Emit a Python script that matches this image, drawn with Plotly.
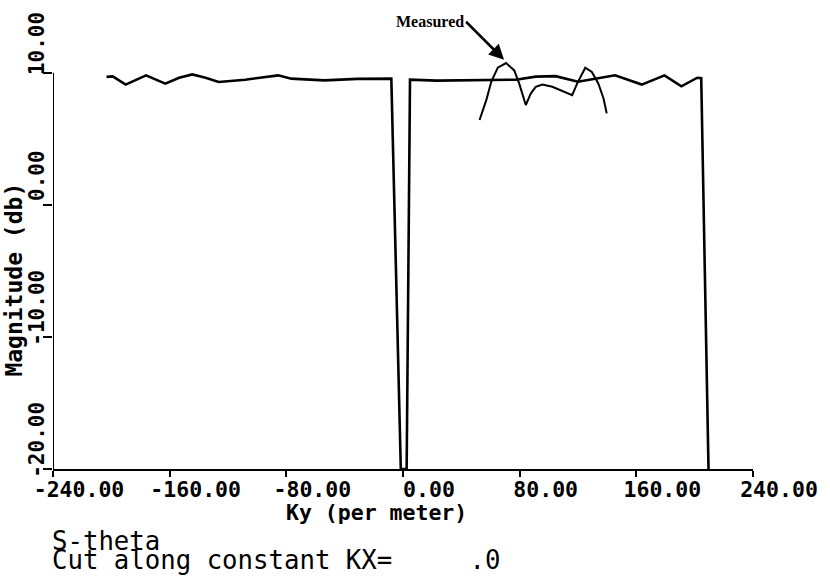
import plotly.graph_objects as go

# Computed S-theta magnitude cut along Kx = 0
ky_computed = [-203.3, -199.0, -190.2, -176.2, -163.0, -153.5, -144.5, -135.4,
               -126.4, -108.2, -85.6, -76.6, -53.9, -31.3, -8.0, -1.5, 2.5,
               4.8, 23.1, 50.3, 77.4, 91.0, 104.6, 120.0, 131.8, 145.4, 163.7,
               179.3, 190.9, 201.8, 204.5, 209.5]
mag_computed = [9.68, 9.72, 9.10, 9.80, 9.17, 9.62, 9.87, 9.62,
                9.30, 9.47, 9.80, 9.55, 9.42, 9.53, 9.55, -20.0, -20.0,
                9.47, 9.40, 9.44, 9.47, 9.70, 9.74, 9.32, 9.55, 9.80, 9.10,
                9.80, 8.97, 9.62, 9.59, -20.0]

# Measured magnitude
ky_measured = [52.5, 57.1, 60.5, 65.0, 70.7, 76.3, 79.7, 84.2, 87.6, 91.0,
               95.6, 102.4, 116.0, 119.4, 125.0, 129.5, 134.0, 137.5, 139.7]
mag_measured = [6.42, 7.92, 9.30, 10.38, 10.73, 10.17, 9.17, 7.55, 8.42, 8.93,
                9.10, 8.93, 8.30, 9.17, 10.38, 10.05, 9.17, 8.05, 6.92]

x_ticks = [-240, -160, -80, 0, 80, 160, 240]
x_tick_text = ["-240.00", "-160.00", "-80.00", "0.00", "80.00", "160.00", "240.00"]
y_ticks = [-20, -10, 0, 10]
y_tick_text = ["-20.00", "-10.00", "0.00", "10.00"]

X_RANGE = [-240, 240]
Y_RANGE = [-20, 12.475]

mono = "DejaVu Sans Mono"

fig = go.Figure()
fig.add_trace(go.Scatter(x=ky_computed, y=mag_computed, mode="lines",
                         line=dict(color="black", width=2.6),
                         showlegend=False))
fig.add_trace(go.Scatter(x=ky_measured, y=mag_measured, mode="lines",
                         line=dict(color="black", width=2),
                         showlegend=False))

# vertical axis line only spans the labelled range
fig.add_shape(type="line", xref="x", yref="y", x0=-240, x1=-240,
              y0=y_ticks[0], y1=y_ticks[-1],
              line=dict(color="black", width=2))

fig.update_xaxes(range=X_RANGE, tickvals=x_ticks, ticktext=x_tick_text,
                 showgrid=False, zeroline=False, showline=True,
                 linecolor="black", linewidth=2, ticks="outside",
                 ticklen=6, tickwidth=2, tickcolor="black",
                 ticklabelshift=26, ticklabelstandoff=-6,
                 tickfont=dict(family=mono, size=21.5, color="black", weight="bold"))
fig.update_yaxes(range=Y_RANGE, tickvals=y_ticks, ticktext=y_tick_text,
                 showgrid=False, zeroline=False, showline=False,
                 ticks="outside", ticklen=9, tickwidth=2, tickcolor="black",
                 tickangle=-90, ticklabelshift=-26, ticklabelstandoff=-9,
                 tickfont=dict(family=mono, size=21, color="black", weight="bold"))

annotations = [
    dict(text="Ky (per meter)", xref="paper", yref="paper", x=0.4626, y=-0.1005,
         xanchor="center", yanchor="middle", showarrow=False,
         font=dict(family=mono, size=21.5, color="black", weight="bold")),
    dict(text="Magnitude (db)", xref="paper", yref="paper", x=-0.056, y=0.441,
         xanchor="center", yanchor="middle", showarrow=False, textangle=-90,
         font=dict(family=mono, size=23, color="black", weight="bold")),
    dict(text="S-theta", xref="paper", yref="paper", x=-0.004, y=-0.167,
         xanchor="left", yanchor="middle", showarrow=False,
         font=dict(family=mono, size=25.7, color="black")),
    dict(text="Cut along constant KX=     .0", xref="paper", yref="paper",
         x=-0.004, y=-0.212, xanchor="left", yanchor="middle", showarrow=False,
         font=dict(family=mono, size=25.7, color="black")),
    dict(text="<b>Measured</b>", xref="x", yref="y", x=69.3, y=10.98,
         axref="pixel", ayref="pixel", ax=-38, ay=-38,
         xanchor="right", yanchor="middle", showarrow=True,
         arrowhead=2, arrowsize=1.2, arrowwidth=2.5, arrowcolor="black",
         font=dict(family="Liberation Serif", size=16, color="black")),
]
fig.update_layout(
    width=830, height=577,
    margin=dict(l=53, r=68, t=36, b=108),
    paper_bgcolor="white", plot_bgcolor="white",
    annotations=annotations,
)

fig.write_html("out.html")
